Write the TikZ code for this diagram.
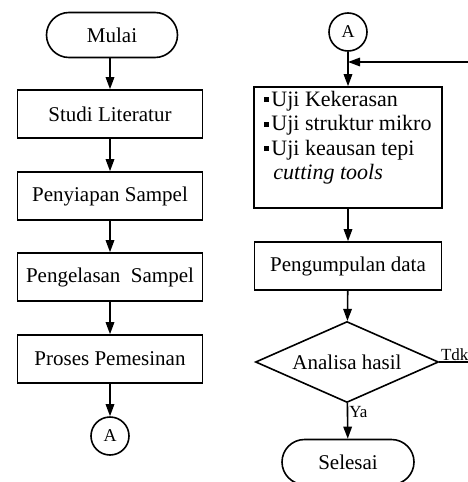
\documentclass[tikz,border=0pt]{standalone}
\usepackage{fontspec}
\setmainfont{Liberation Serif}
\usetikzlibrary{shapes.geometric, arrows.meta, positioning}

\newcommand{\sqbul}{\raisebox{4pt}{\rule{5pt}{5pt}}\hspace{2pt}}

\begin{document}
\begin{tikzpicture}[x=1pt, y=-1pt,
  pbox/.style={draw, line width=1.6pt, minimum width=185pt, minimum height=48pt, inner sep=2pt, font=\fontsize{21}{24}\selectfont},
  term/.style={pbox, rounded corners=22.5pt, minimum width=131pt, minimum height=45pt},
  conn/.style={draw, circle, line width=1.6pt, minimum size=38pt, inner sep=0pt, font=\fontsize{18}{20}\selectfont},
  dec/.style={draw, diamond, aspect=2.26, line width=1.6pt, minimum width=183pt, minimum height=81pt, inner sep=2pt, font=\fontsize{21}{24}\selectfont},
  flow/.style={line width=1.6pt, -{Triangle[length=12pt, width=8.5pt]}},
  lbl/.style={font=\fontsize{17}{19}\selectfont, inner sep=1pt}
]
  \useasboundingbox (0,0) rectangle (468,482);
  \clip (0,0) rectangle (468,482);

  % left column
  \node[term] (mulai) at (112,35) {Mulai};
  \node[pbox] (studi) at (110,114) {Studi Literatur};
  \node[pbox] (siap) at (110,196) {Penyiapan Sampel};
  \node[pbox] (las) at (110,277) {Pengelasan\ \ Sampel};
  \node[pbox] (mesin) at (110,359) {Proses Pemesinan};
  \node[conn] (akhirA) at (110,436) {A};

  \draw[flow] (mulai.south -| studi) -- (studi);
  \draw[flow] (studi) -- (siap);
  \draw[flow] (siap) -- (las);
  \draw[flow] (las) -- (mesin);
  \draw[flow] (mesin) -- (akhirA);

  % right column
  \node[conn] (awalA) at (348,32) {A};
  \coordinate (gabung) at (348,62);
  \node[pbox, minimum width=188pt, minimum height=121pt, align=left, font=\fontsize{22}{24.5}\selectfont] (uji) at (348,147.5)
    {\sqbul Uji Kekerasan\\ \sqbul Uji struktur mikro\\ \sqbul Uji keausan tepi\\ \hspace*{9pt}\textit{cutting tools}\\[0pt]\mbox{}};
  \node[pbox, minimum width=187pt] (kumpul) at (348,266) {Pengumpulan data};
  \node[dec] (analisa) at (347,362) {Analisa hasil};
  \node[term, minimum width=132pt] (selesai) at (348,462) {Selesai};
  \coordinate (balik) at (485,362);

  \draw[flow] (awalA) -- (uji);
  \draw[flow] (uji) -- (kumpul);
  \draw[flow] (kumpul) -- (analisa);
  \draw[flow] (analisa) -- node[lbl, right, pos=0.25] {Ya} (selesai);
  \draw[flow] (analisa.east) -- node[lbl, anchor=south west, pos=0] {Tdk} (balik) |- (gabung);
\end{tikzpicture}
\end{document}
